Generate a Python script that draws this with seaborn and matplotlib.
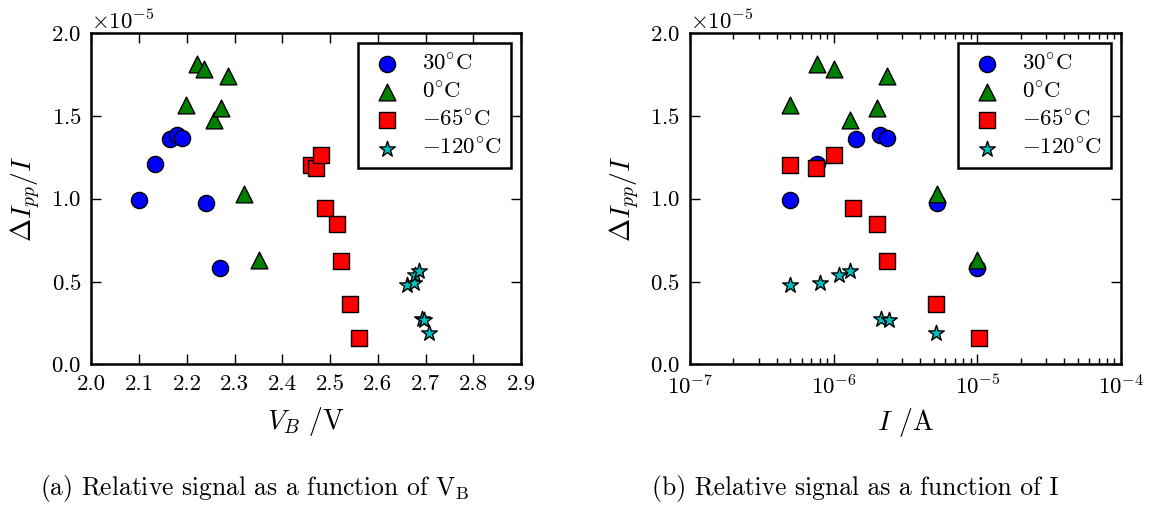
import matplotlib
matplotlib.use("Agg")
import matplotlib.pyplot as plt
from matplotlib.ticker import ScalarFormatter, LogLocator, NullFormatter
import numpy as np
import pandas as pd
import seaborn as sns

# Series labels
labels = [r"$30^{\circ}$C", r"$0^{\circ}$C", r"$-65^{\circ}$C", r"$-120^{\circ}$C"]

# Bias voltage V_B (V) per temperature
vb_30 = [2.100, 2.134, 2.165, 2.179, 2.190, 2.239, 2.269]
vb_0 = [2.199, 2.222, 2.236, 2.256, 2.271, 2.286, 2.320, 2.350]
vb_m65 = [2.460, 2.471, 2.481, 2.490, 2.515, 2.523, 2.541, 2.561]
vb_m120 = [2.661, 2.675, 2.678, 2.687, 2.692, 2.696, 2.708]

# Current I (A) per temperature
i_30 = [5.0e-7, 7.6e-7, 1.42e-6, 2.10e-6, 2.36e-6, 5.26e-6, 1.0e-5]
i_0 = [5.0e-7, 7.6e-7, 1.0e-6, 1.30e-6, 2.01e-6, 2.36e-6, 5.26e-6, 1.0e-5]
i_m65 = [5.0e-7, 7.5e-7, 1.0e-6, 1.36e-6, 2.01e-6, 2.36e-6, 5.15e-6, 1.03e-5]
i_m120 = [5.0e-7, 8.0e-7, 1.09e-6, 1.30e-6, 2.12e-6, 2.44e-6, 5.13e-6]

# Relative signal dI_pp / I (units of 1e-5)
sig_30 = [0.990, 1.210, 1.363, 1.386, 1.364, 0.973, 0.580]
sig_0 = [1.564, 1.813, 1.785, 1.476, 1.550, 1.739, 1.027, 0.633]
sig_m65 = [1.205, 1.185, 1.265, 0.942, 0.848, 0.626, 0.365, 0.160]
sig_m120 = [0.480, 0.492, 0.537, 0.563, 0.276, 0.271, 0.190]

x_ticks_v = [2.0, 2.1, 2.2, 2.3, 2.4, 2.5, 2.6, 2.7, 2.8, 2.9]
y_ticks = [0.0, 0.5, 1.0, 1.5, 2.0]

sns.set_style("ticks")
plt.rcParams.update({
    "font.family": "serif",
    "font.serif": ["cmr10"],
    "mathtext.fontset": "cm",
    "axes.formatter.use_mathtext": True,
    "axes.unicode_minus": True,
    "axes.linewidth": 1.8,
    "axes.edgecolor": "black",
    "xtick.direction": "in",
    "ytick.direction": "in",
    "xtick.top": True,
    "ytick.right": True,
    "xtick.major.size": 7,
    "ytick.major.size": 7,
    "xtick.minor.size": 4,
    "ytick.minor.size": 4,
    "xtick.major.width": 1.0,
    "ytick.major.width": 1.0,
    "xtick.minor.width": 1.0,
    "xtick.labelsize": 16.5,
    "ytick.labelsize": 16.5,
    "xtick.color": "black",
    "ytick.color": "black",
    "text.color": "black",
    "axes.labelcolor": "black",
})

styles = [
    dict(marker="o", color="#0000ff", s=135),
    dict(marker="^", color="#008000", s=145),
    dict(marker="s", color="#ff0000", s=135),
    dict(marker="*", color="#00bfbf", s=140),
]

fig = plt.figure(figsize=(11.55, 5.08), dpi=100)
ax1 = fig.add_axes([0.0792, 0.2825, 0.3719, 0.6526])
ax2 = fig.add_axes([0.5974, 0.2825, 0.3732, 0.6526])

vb_sets = [vb_30, vb_0, vb_m65, vb_m120]
i_sets = [i_30, i_0, i_m65, i_m120]
sig_sets = [sig_30, sig_0, sig_m65, sig_m120]

for ax, xs_sets in ((ax1, vb_sets), (ax2, i_sets)):
    for xs, ys, lab, st in zip(xs_sets, sig_sets, labels, styles):
        df = pd.DataFrame({"x": xs, "y": np.array(ys) * 1e-5})
        sns.scatterplot(data=df, x="x", y="y", marker=st["marker"], color=st["color"],
                        s=st["s"], edgecolor="black", linewidth=1.0, label=lab, ax=ax,
                        zorder=3)

# Left panel: linear voltage axis
ax1.set_xlim(2.0, 2.9)
ax1.set_xticks(x_ticks_v)
ax1.set_xticklabels([f"{v:.1f}" for v in x_ticks_v])
ax1.set_xlabel(r"$V_B$ /V", fontsize=20, labelpad=8)

# Right panel: logarithmic current axis
ax2.set_xscale("log")
ax2.set_xlim(1e-7, 1e-4)
ax2.xaxis.set_major_locator(LogLocator(base=10, numticks=10))
ax2.xaxis.set_minor_locator(LogLocator(base=10, subs=np.arange(2, 10), numticks=20))
ax2.xaxis.set_minor_formatter(NullFormatter())
ax2.set_xlabel(r"$I$ /A", fontsize=20, labelpad=5)

for ax in (ax1, ax2):
    ax.set_ylim(0, 2.0e-5)
    ax.set_yticks([v * 1e-5 for v in y_ticks])
    fmt = ScalarFormatter(useMathText=True)
    fmt.set_powerlimits((0, 0))
    ax.yaxis.set_major_formatter(fmt)
    ax.yaxis.get_offset_text().set_fontsize(16.5)
    ax.set_ylabel(r"$\Delta I_{pp}/I$", fontsize=20, labelpad=6)
    ax.tick_params(axis="both", which="both", direction="in", top=True, right=True)
    ax.tick_params(axis="both", which="major", pad=7)
    for sp in ax.spines.values():
        sp.set_visible(True)
        sp.set_linewidth(1.8)
    leg = ax.legend(loc="upper right", fontsize=16.5, scatterpoints=1, frameon=True,
                    fancybox=False, framealpha=1.0, edgecolor="black",
                    borderpad=0.4, labelspacing=0.3, handletextpad=0.6,
                    handlelength=1.8, borderaxespad=0.45)
    leg.get_frame().set_linewidth(1.8)

fig.text(40 / 1155, 1 - 495 / 508, r"(a) Relative signal as a function of V$_{\mathrm{B}}$",
         fontsize=18.4, ha="left", va="baseline")
fig.text(652 / 1155, 1 - 495 / 508, "(b) Relative signal as a function of I",
         fontsize=18.4, ha="left", va="baseline")

fig.savefig("out.png", dpi=100)
